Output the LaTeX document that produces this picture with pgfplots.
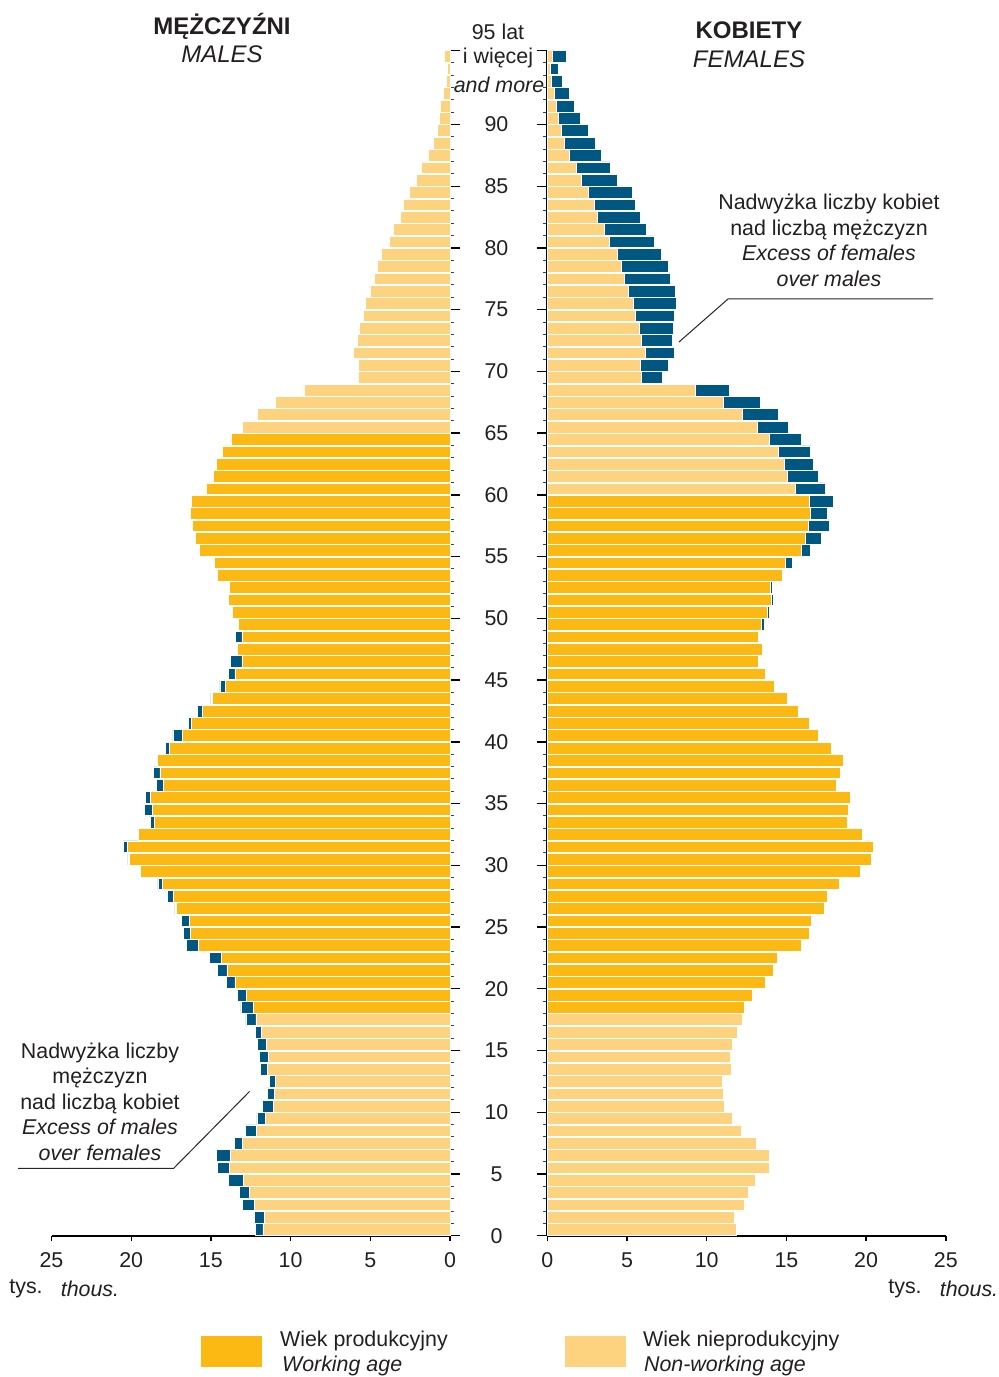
\documentclass[border=0pt]{standalone}
\usepackage{fontspec}
\setmainfont{Liberation Sans}
\usepackage{pgfplots}
\pgfplotsset{compat=1.18}
\usepackage{pgfplotstable}
\definecolor{work}{RGB}{252,185,20}
\definecolor{nonwork}{RGB}{254,211,128}
\definecolor{exc}{RGB}{0,87,130}
\definecolor{txt}{RGB}{35,31,32}
\newcommand{\fsz}{\fontsize{10.7}{12.75}\selectfont}
\newcommand{\tsz}{\fontsize{12}{14}\selectfont}

% ML = male bar, yellow part; MT = male total (end of blue excess)
% FL = female bar, yellow part; FT = female total (end of blue excess)
\pgfplotstableread{
age ML MT FL FT
0 11.74 12.22 11.83 11.83
1 11.66 12.26 11.70 11.70
2 12.26 13.02 12.33 12.33
3 12.56 13.19 12.62 12.62
4 12.94 13.88 13.04 13.04
5 13.83 14.59 13.94 13.94
6 13.79 14.67 13.90 13.90
7 13.00 13.54 13.12 13.12
8 12.14 12.83 12.18 12.18
9 11.57 12.12 11.62 11.62
10 11.09 11.76 11.12 11.12
11 11.01 11.45 11.05 11.05
12 10.93 11.32 10.99 10.99
13 11.47 11.91 11.57 11.57
14 11.41 11.95 11.45 11.45
15 11.53 12.10 11.60 11.60
16 11.83 12.20 11.91 11.91
17 12.18 12.81 12.26 12.26
18 12.31 13.12 12.37 12.37
19 12.79 13.35 12.89 12.89
20 13.50 14.02 13.65 13.65
21 14.00 14.59 14.15 14.15
22 14.32 15.07 14.46 14.46
23 15.76 16.53 15.92 15.92
24 16.28 16.74 16.42 16.42
25 16.36 16.86 16.55 16.55
26 17.14 17.26 17.35 17.35
27 17.37 17.74 17.58 17.58
28 18.06 18.33 18.29 18.29
29 19.40 19.40 19.61 19.71
30 20.09 20.21 20.34 20.34
31 20.25 20.50 20.48 20.48
32 19.54 19.54 19.79 19.79
33 18.56 18.79 18.79 18.79
34 18.68 19.15 18.91 18.91
35 18.79 19.10 19.00 19.00
36 17.99 18.43 18.16 18.16
37 18.20 18.60 18.41 18.41
38 18.37 18.37 18.58 18.58
39 17.62 17.85 17.80 17.80
40 16.80 17.39 16.99 16.99
41 16.22 16.41 16.41 16.41
42 15.55 15.86 15.73 15.73
43 14.90 15.00 15.07 15.07
44 14.10 14.44 14.27 14.27
45 13.50 13.90 13.65 13.65
46 13.06 13.79 13.21 13.21
47 13.33 13.33 13.46 13.54
48 13.06 13.46 13.21 13.21
49 13.27 13.27 13.41 13.60
50 13.65 13.65 13.81 13.92
51 13.88 13.88 14.04 14.19
52 13.83 13.83 14.02 14.13
53 14.59 14.59 14.76 14.76
54 14.76 14.76 14.94 15.40
55 15.72 15.72 15.95 16.51
56 15.98 15.98 16.17 17.20
57 16.15 16.15 16.36 17.70
58 16.28 16.28 16.49 17.58
59 16.20 16.20 16.41 17.96
60 15.32 15.32 15.55 17.43
61 14.82 14.82 15.03 16.99
62 14.65 14.65 14.86 16.70
63 14.27 14.27 14.48 16.53
64 13.75 13.75 13.94 15.95
65 13.00 13.00 13.19 15.15
66 12.08 12.08 12.22 14.52
67 10.93 10.93 11.07 13.39
68 9.17 9.17 9.30 11.43
69 5.78 5.78 5.87 7.20
70 5.74 5.74 5.85 7.58
71 6.05 6.05 6.16 7.94
72 5.80 5.80 5.91 7.87
73 5.66 5.66 5.76 7.89
74 5.41 5.41 5.51 7.98
75 5.30 5.30 5.41 8.08
76 5.03 5.03 5.09 8.00
77 4.74 4.74 4.84 7.69
78 4.59 4.59 4.67 7.62
79 4.32 4.32 4.40 7.16
80 3.81 3.81 3.88 6.74
81 3.54 3.54 3.56 6.18
82 3.11 3.11 3.15 5.82
83 2.90 2.90 2.94 5.51
84 2.54 2.54 2.60 5.32
85 2.10 2.10 2.15 4.40
86 1.79 1.79 1.79 3.98
87 1.35 1.35 1.39 3.36
88 1.04 1.04 1.08 3.00
89 0.80 0.80 0.85 2.60
90 0.68 0.68 0.68 2.10
91 0.58 0.58 0.58 1.71
92 0.39 0.39 0.43 1.35
93 0.22 0.22 0.26 0.95
94 0.18 0.18 0.20 0.70
95 0.35 0.35 0.33 1.20
}\pop

\pgfplotsset{
  pyr/.style={
    scale only axis, width=199.25pt, height=592.65pt, anchor=south west,
    ymin=0, ymax=96, ytick={0,5,...,90,96}, minor ytick={1,...,95},
    tick align=outside, major tick length=5pt, minor tick length=2pt,
    axis line style={line width=0.9pt, black},
    major tick style={black, line width=0.7pt},
    minor tick style={black!75, line width=0.5pt},
    xtick style={/pgfplots/major tick length=2.5pt},
    tick label style={font=\fsz, text=txt},
    clip=false,
  },
  bars/.style={xbar, bar shift=0pt, bar width=0.95, draw=white, line width=0.3pt},
}

\begin{document}
\begin{tikzpicture}[font=\fsz, text=txt]
\path[use as bounding box] (0,0) rectangle (499.5pt,688.5pt);

% ---- males (left) ----
\begin{axis}[pyr, at={(25.75pt,70.65pt)},
  xmin=-25, xmax=0, xtick={-25,-20,...,0}, xticklabels={25,20,15,10,5,0},
  axis x line*=bottom, axis y line*=right,
  xtick pos=left, xticklabel pos=left, ytick pos=right, yticklabel pos=right,
  yticklabels={0,5,10,15,20,25,30,35,40,45,50,55,60,65,70,75,80,85,90,{}},
  yticklabel style={anchor=center, xshift=18.25pt},
]
\addplot[bars, fill=exc] table[x expr={\thisrow{MT}>\thisrow{ML}+0.001 ? -\thisrow{MT} : nan}, y expr=\thisrow{age}+0.5]{\pop};
\addplot[bars, fill=nonwork, restrict y to domain=0:18] table[x expr=-\thisrow{ML}, y expr=\thisrow{age}+0.5]{\pop};
\addplot[bars, fill=work, restrict y to domain=18:65] table[x expr=-\thisrow{ML}, y expr=\thisrow{age}+0.5]{\pop};
\addplot[bars, fill=nonwork, restrict y to domain=65:96] table[x expr=-\thisrow{ML}, y expr=\thisrow{age}+0.5]{\pop};
\end{axis}

% ---- females (right) ----
\begin{axis}[pyr, at={(273.65pt,70.65pt)},
  xmin=0, xmax=25, xtick={0,5,...,25}, xticklabels={0,5,10,15,20,25},
  axis x line*=bottom, axis y line*=left,
  xtick pos=left, xticklabel pos=left, ytick pos=left, yticklabels={},
]
\addplot[bars, fill=exc] table[x expr={\thisrow{FT}>\thisrow{FL}+0.001 ? \thisrow{FT} : nan}, y expr=\thisrow{age}+0.5]{\pop};
\addplot[bars, fill=nonwork, restrict y to domain=0:18] table[x=FL, y expr=\thisrow{age}+0.5]{\pop};
\addplot[bars, fill=work, restrict y to domain=18:60] table[x=FL, y expr=\thisrow{age}+0.5]{\pop};
\addplot[bars, fill=nonwork, restrict y to domain=60:96] table[x=FL, y expr=\thisrow{age}+0.5]{\pop};
\end{axis}

% ---- texts in pixel coordinates of the reference ----
\begin{scope}[shift={(0pt,688.5pt)}, x=0.5pt, y=-0.5pt]
\node[font=\tsz\bfseries] at (222,26) {MĘŻCZYŹNI};
\node[font=\tsz\itshape] at (222,54) {MALES};
\node[font=\tsz\bfseries] at (749,30) {KOBIETY};
\node[font=\tsz\itshape] at (749,59) {FEMALES};
\node at (498,32) {95 lat};
\node at (498,58) {i więcej};
\node[font=\fsz\itshape] at (499,85) {and more};

\node[align=center] at (829,240.5) {Nadwyżka liczby kobiet\\nad liczbą mężczyzn\\\textit{Excess of females}\\\textit{over males}};
\draw[black!85, line width=0.5pt] (933,299) -- (728,299) -- (679,342);

\node[align=center] at (100,1101.5) {Nadwyżka liczby\\mężczyzn\\nad liczbą kobiet\\\textit{Excess of males}\\\textit{over females}};
\draw[black!85, line width=0.5pt] (18,1168.5) -- (173.5,1168.5) -- (249.5,1091.5);

\node at (26,1289) {tys.};
\node[font=\fsz\itshape] at (90,1289) {thous.};
\node at (905,1289) {tys.};
\node[font=\fsz\itshape] at (969,1289) {thous.};

\fill[work] (201,1336) rectangle (262,1367);
\node[anchor=west] at (273,1341) {Wiek produkcyjny};
\node[anchor=west, font=\fsz\itshape] at (275,1366) {Working age};
\fill[nonwork] (565,1336) rectangle (626,1367);
\node[anchor=west] at (636,1341) {Wiek nieprodukcyjny};
\node[anchor=west, font=\fsz\itshape] at (637,1366) {Non-working age};
\end{scope}
\end{tikzpicture}
\end{document}
